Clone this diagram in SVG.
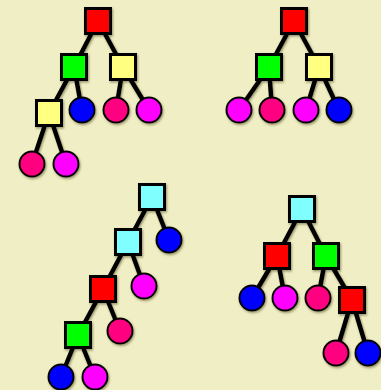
<svg xmlns="http://www.w3.org/2000/svg" width="381" height="390" viewBox="0 0 381 390">
<defs>
<filter id="sh" x="-20%" y="-20%" width="140%" height="140%">
<feDropShadow dx="1" dy="1.5" stdDeviation="1.2" flood-color="#5a5830" flood-opacity="0.6"/>
</filter>
<rect id="sq" x="-12.5" y="-12.5" width="25" height="25"/>
<circle id="ci" r="12.5"/>
</defs>
<style>
.sq use { stroke:#000; stroke-width:3; }
.ci use { stroke:#000; stroke-width:2; }
.red { fill:#FF0000; }
.grn { fill:#00FF00; }
.yel { fill:#FFFF80; }
.cyn { fill:#80FFFF; }
.blu { fill:#0000FF; }
.mag { fill:#FF00FF; }
.pnk { fill:#FF0080; }
#connectors line { stroke:#000; stroke-width:4.5; stroke-linecap:butt; }
</style>
<rect width="381" height="390" fill="#F0EEC4"/>
<g filter="url(#sh)">
<g id="connectors">
<line x1="98" y1="21" x2="74" y2="67"/>
<line x1="98" y1="21" x2="123" y2="67"/>
<line x1="74" y1="67" x2="49" y2="113"/>
<line x1="74" y1="67" x2="82" y2="110"/>
<line x1="123" y1="67" x2="116" y2="110"/>
<line x1="123" y1="67" x2="149" y2="110"/>
<line x1="49" y1="113" x2="32" y2="164"/>
<line x1="49" y1="113" x2="66" y2="164"/>
<line x1="294" y1="21" x2="269" y2="67"/>
<line x1="294" y1="21" x2="319" y2="67"/>
<line x1="269" y1="67" x2="239" y2="110"/>
<line x1="269" y1="67" x2="272" y2="110"/>
<line x1="319" y1="67" x2="306" y2="110"/>
<line x1="319" y1="67" x2="339" y2="110"/>
<line x1="152" y1="197" x2="128" y2="242"/>
<line x1="152" y1="197" x2="169" y2="240"/>
<line x1="128" y1="242" x2="103" y2="289"/>
<line x1="128" y1="242" x2="144" y2="286"/>
<line x1="103" y1="289" x2="78" y2="335"/>
<line x1="103" y1="289" x2="120" y2="331"/>
<line x1="78" y1="335" x2="61" y2="377"/>
<line x1="78" y1="335" x2="95" y2="377"/>
<line x1="302" y1="209" x2="277" y2="256"/>
<line x1="302" y1="209" x2="326" y2="256"/>
<line x1="277" y1="256" x2="252" y2="298"/>
<line x1="277" y1="256" x2="285" y2="298"/>
<line x1="326" y1="256" x2="318" y2="298"/>
<line x1="326" y1="256" x2="352" y2="300"/>
<line x1="352" y1="300" x2="336" y2="353"/>
<line x1="352" y1="300" x2="368" y2="353"/>
</g>
<g id="t1-root" class="sq"><use href="#sq" class="red" x="98" y="21"/></g>
<g id="t1-l" class="sq"><use href="#sq" class="grn" x="74" y="67"/></g>
<g id="t1-r" class="sq"><use href="#sq" class="yel" x="123" y="67"/></g>
<g id="t1-ll" class="sq"><use href="#sq" class="yel" x="49" y="113"/></g>
<g id="t1-lr" class="ci"><use href="#ci" class="blu" x="82" y="110"/></g>
<g id="t1-rl" class="ci"><use href="#ci" class="pnk" x="116" y="110"/></g>
<g id="t1-rr" class="ci"><use href="#ci" class="mag" x="149" y="110"/></g>
<g id="t1-lll" class="ci"><use href="#ci" class="pnk" x="32" y="164"/></g>
<g id="t1-llr" class="ci"><use href="#ci" class="mag" x="66" y="164"/></g>
<g id="t2-root" class="sq"><use href="#sq" class="red" x="294" y="21"/></g>
<g id="t2-l" class="sq"><use href="#sq" class="grn" x="269" y="67"/></g>
<g id="t2-r" class="sq"><use href="#sq" class="yel" x="319" y="67"/></g>
<g id="t2-ll" class="ci"><use href="#ci" class="mag" x="239" y="110"/></g>
<g id="t2-lr" class="ci"><use href="#ci" class="pnk" x="272" y="110"/></g>
<g id="t2-rl" class="ci"><use href="#ci" class="mag" x="306" y="110"/></g>
<g id="t2-rr" class="ci"><use href="#ci" class="blu" x="339" y="110"/></g>
<g id="t3-root" class="sq"><use href="#sq" class="cyn" x="152" y="197"/></g>
<g id="t3-l" class="sq"><use href="#sq" class="cyn" x="128" y="242"/></g>
<g id="t3-r" class="ci"><use href="#ci" class="blu" x="169" y="240"/></g>
<g id="t3-ll" class="sq"><use href="#sq" class="red" x="103" y="289"/></g>
<g id="t3-lr" class="ci"><use href="#ci" class="mag" x="144" y="286"/></g>
<g id="t3-lll" class="sq"><use href="#sq" class="grn" x="78" y="335"/></g>
<g id="t3-llr" class="ci"><use href="#ci" class="pnk" x="120" y="331"/></g>
<g id="t3-llll" class="ci"><use href="#ci" class="blu" x="61" y="377"/></g>
<g id="t3-lllr" class="ci"><use href="#ci" class="mag" x="95" y="377"/></g>
<g id="t4-root" class="sq"><use href="#sq" class="cyn" x="302" y="209"/></g>
<g id="t4-l" class="sq"><use href="#sq" class="red" x="277" y="256"/></g>
<g id="t4-r" class="sq"><use href="#sq" class="grn" x="326" y="256"/></g>
<g id="t4-ll" class="ci"><use href="#ci" class="blu" x="252" y="298"/></g>
<g id="t4-lr" class="ci"><use href="#ci" class="mag" x="285" y="298"/></g>
<g id="t4-rl" class="ci"><use href="#ci" class="pnk" x="318" y="298"/></g>
<g id="t4-rr" class="sq"><use href="#sq" class="red" x="352" y="300"/></g>
<g id="t4-rrl" class="ci"><use href="#ci" class="pnk" x="336" y="353"/></g>
<g id="t4-rrr" class="ci"><use href="#ci" class="blu" x="368" y="353"/></g>
</g>
</svg>
